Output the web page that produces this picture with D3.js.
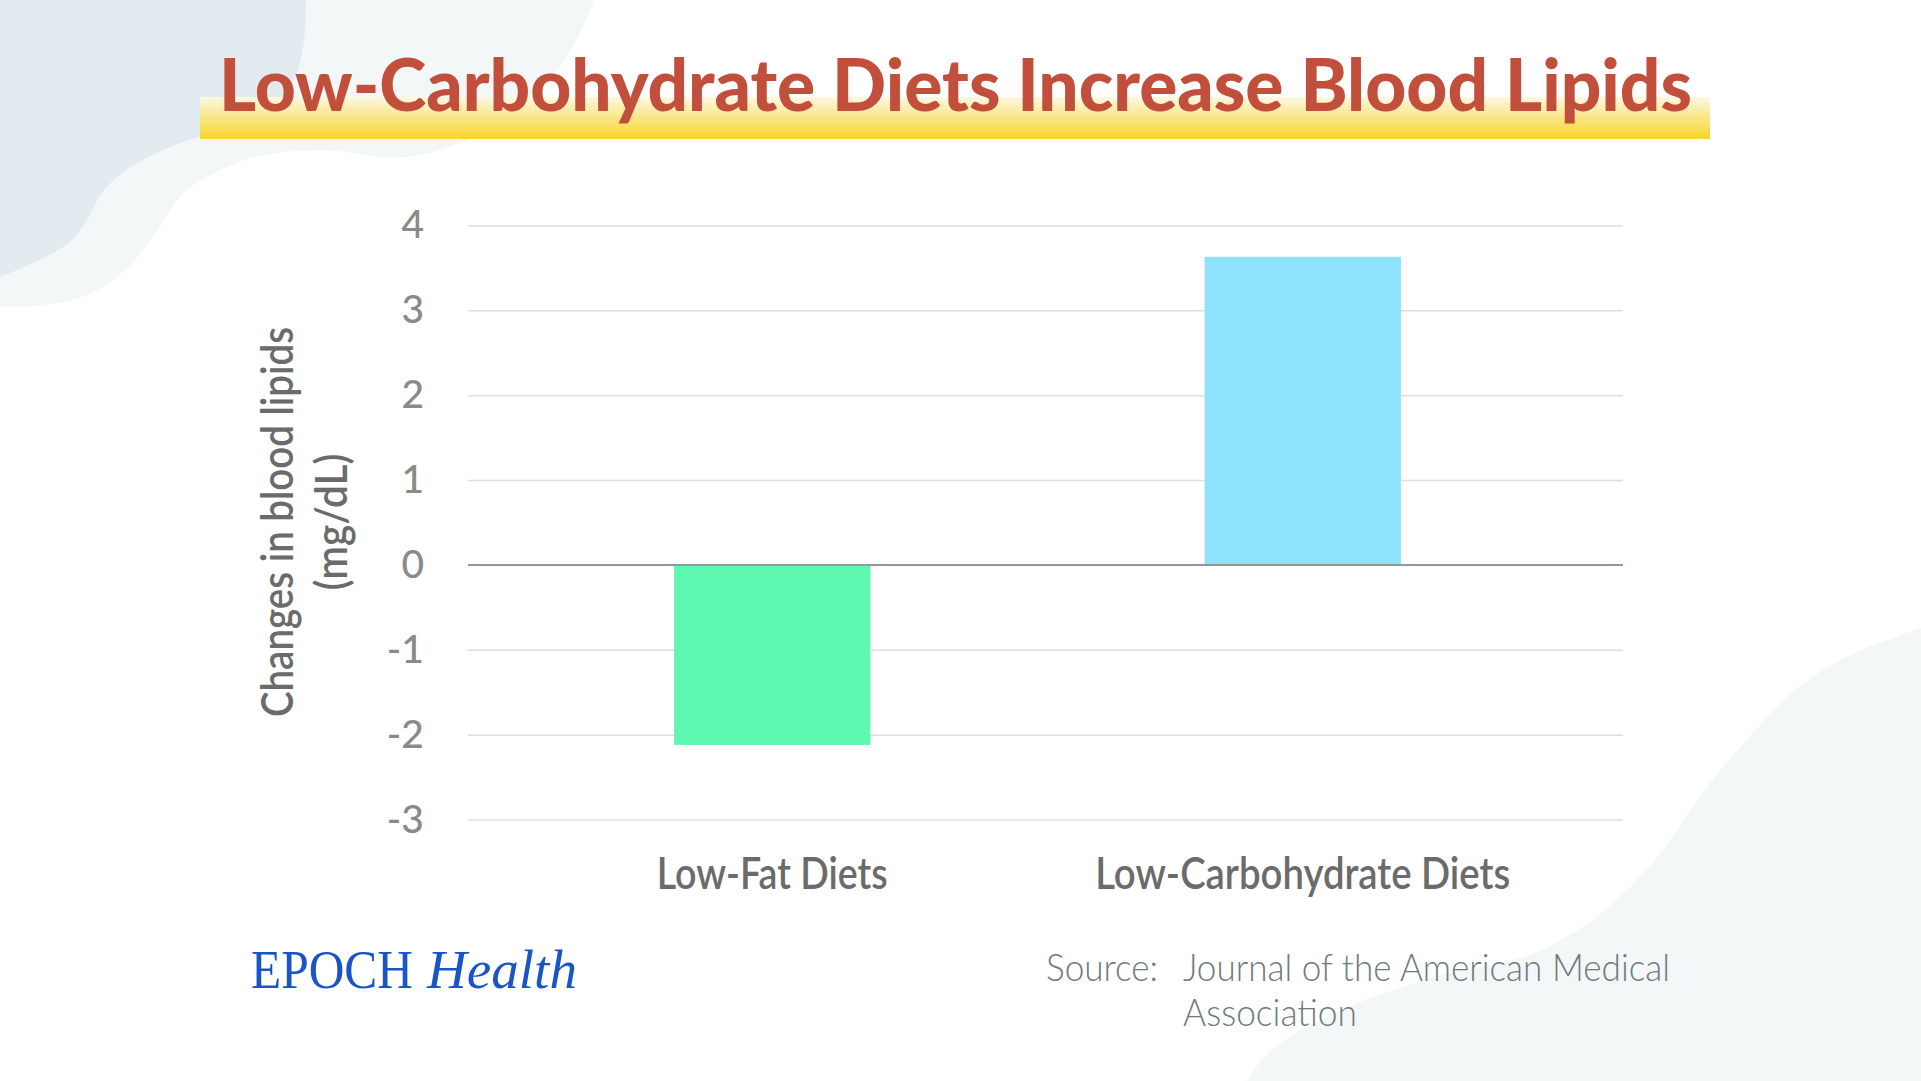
<!DOCTYPE html>
<html><head><meta charset="utf-8">
<script src="https://cdn.jsdelivr.net/npm/d3@7"></script>
<style>html,body{margin:0;padding:0;background:#fff;overflow:hidden}</style>
</head><body><svg id="chart" width="1921" height="1081"></svg>
<script>
// ---- data ----
const categories = ["Low-Fat Diets", "Low-Carbohydrate Diets"];
const values = [-2.12, 3.63];
const barColors = ["#5ef8b0", "#8fe2fe"];
const yTicks = [-3, -2, -1, 0, 1, 2, 3, 4];
const yTickLabels = ["-3", "-2", "-1", "0", "1", "2", "3", "4"];
const yTitleLines = ["Changes in blood lipids", "(mg/dL)"];
const titleText = "Low-Carbohydrate Diets Increase Blood Lipids";
const sourceLabel = "Source:";
const sourceLines = ["Journal of the American Medical", "Association"];
const logoParts = ["EPOCH", "Health"];

// ---- setup ----
const svg = d3.select("#chart");
const W = 1921, H = 1081;
const FONT = "Lato, 'Noto Sans', 'Open Sans', sans-serif";
const fit = (sel, w) => sel.attr("textLength", w).attr("lengthAdjust", "spacingAndGlyphs");

svg.append("rect").attr("width", W).attr("height", H).attr("fill", "#ffffff");

// background decorative blobs
const blob = d3.line().curve(d3.curveCatmullRom.alpha(0.5));
const lightTL = [[594,0],[571,50],[531,100],[482,133],[408,157],[318,150],[245,160],[184,193],[151,240],[122,273],[82,297],[20,307],[0,307]];
const darkTL = [[306,0],[304,40],[294,80],[268,112],[225,130],[180,143],[131,167],[104,190],[88,218],[74,238],[53,253],[24,267],[0,277]];
const lightBR = [[1921,628],[1844,658],[1798,688],[1752,734],[1706,788],[1660,854],[1623,894],[1591,921],[1532,954],[1431,978],[1339,1011],[1270,1051],[1247,1081]];
svg.append("path").attr("d", blob(lightTL) + "L0,0Z").attr("fill", "#f4f7f8");
svg.append("path").attr("d", blob(darkTL) + "L0,0Z").attr("fill", "#e2ebef");
svg.append("path").attr("d", blob(lightBR) + "L1921,1081Z").attr("fill", "#f4f7f8");

// title band
const defs = svg.append("defs");
const grad = defs.append("linearGradient").attr("id", "band").attr("x1", 0).attr("y1", 0).attr("x2", 0).attr("y2", 1);
grad.append("stop").attr("offset", 0).attr("stop-color", "#fdf8e2");
grad.append("stop").attr("offset", 0.5).attr("stop-color", "#fae685");
grad.append("stop").attr("offset", 1).attr("stop-color", "#f9d527");
svg.append("rect").attr("x", 200).attr("y", 97).attr("width", 1510).attr("height", 42).attr("fill", "url(#band)");

svg.append("text").attr("x", 955.5).attr("y", 111).attr("text-anchor", "middle")
  .attr("font-family", FONT).attr("font-weight", 900).attr("font-size", 72.5)
  .attr("fill", "#c24f3c").text(titleText).call(fit, 1473);

// ---- scales ----
const y = d3.scaleLinear().domain([-3, 4]).range([819.6, 225.4]);
const x = d3.scaleBand().domain(categories).range([507, 1568]).paddingInner(0.63).paddingOuter(0.315);
const gridX0 = 468, gridX1 = 1623;

// y axis + gridlines
const yAxis = svg.append("g").attr("transform", `translate(${gridX0},0)`)
  .call(d3.axisLeft(y).tickValues(yTicks).tickSize(-(gridX1 - gridX0)).tickPadding(44)
    .tickFormat((d, i) => yTickLabels[i]));
yAxis.select(".domain").remove();
yAxis.selectAll(".tick line").attr("stroke", "#dcdfdf").attr("stroke-width", 1.5);
yAxis.selectAll(".tick text").attr("font-family", FONT).attr("font-weight", 500).attr("font-size", 39).attr("fill", "#8a8a8a");

// bars
svg.append("g").selectAll("rect").data(categories).join("rect")
  .attr("x", d => x(d)).attr("width", x.bandwidth())
  .attr("y", (d, i) => y(Math.max(0, values[i])))
  .attr("height", (d, i) => Math.abs(y(values[i]) - y(0)))
  .attr("fill", (d, i) => barColors[i]);

// zero line
svg.append("line").attr("x1", gridX0).attr("x2", gridX1).attr("y1", y(0)).attr("y2", y(0))
  .attr("stroke", "#8f9a9a").attr("stroke-width", 2);

// x axis labels
const xAxis = svg.append("g").attr("transform", `translate(0,${y(-3)})`)
  .call(d3.axisBottom(x).tickSize(0).tickPadding(0));
xAxis.select(".domain").remove();
const xLabelWidths = [231, 415];
xAxis.selectAll(".tick text").attr("dy", null).attr("y", 889 - y(-3))
  .attr("font-family", FONT).attr("font-weight", 600).attr("font-size", 44).attr("fill", "#6b6b6b")
  .each(function(d, i) { d3.select(this).call(fit, xLabelWidths[i]); });

// y axis title (one text, two lines)
const ytWidths = [390, 137];
const yt = svg.append("text").attr("transform", "translate(293,522) rotate(-90)").attr("text-anchor", "middle")
  .attr("font-family", FONT).attr("font-weight", 600).attr("font-size", 44).attr("fill", "#6b6b6b");
yTitleLines.forEach((t, i) => {
  yt.append("tspan").attr("x", 0).attr("y", i * 53.7).text(t).call(fit, ytWidths[i]);
});

// logo
svg.append("text").attr("x", 251).attr("y", 988).attr("font-family", "'Liberation Serif', 'DejaVu Serif', serif")
  .attr("font-size", 54).attr("fill", "#1a55c8").text(logoParts[0]).call(fit, 162);
svg.append("text").attr("x", 427).attr("y", 988).attr("font-family", "'Liberation Serif', 'DejaVu Serif', serif")
  .attr("font-style", "italic").attr("font-size", 54).attr("fill", "#1a55c8").text(logoParts[1]).call(fit, 150);

// source
const srcStyle = s => s.attr("font-family", FONT).attr("font-weight", 300).attr("font-size", 37).attr("fill", "#6f7b7b");
svg.append("text").attr("x", 1046).attr("y", 981).call(srcStyle).text(sourceLabel).call(fit, 112);
const srcWidths = [487, 174];
const src = svg.append("text").call(srcStyle);
sourceLines.forEach((t, i) => {
  src.append("tspan").attr("x", 1183).attr("y", 981 + i * 44.5).text(t).call(fit, srcWidths[i]);
});
</script></body></html>
